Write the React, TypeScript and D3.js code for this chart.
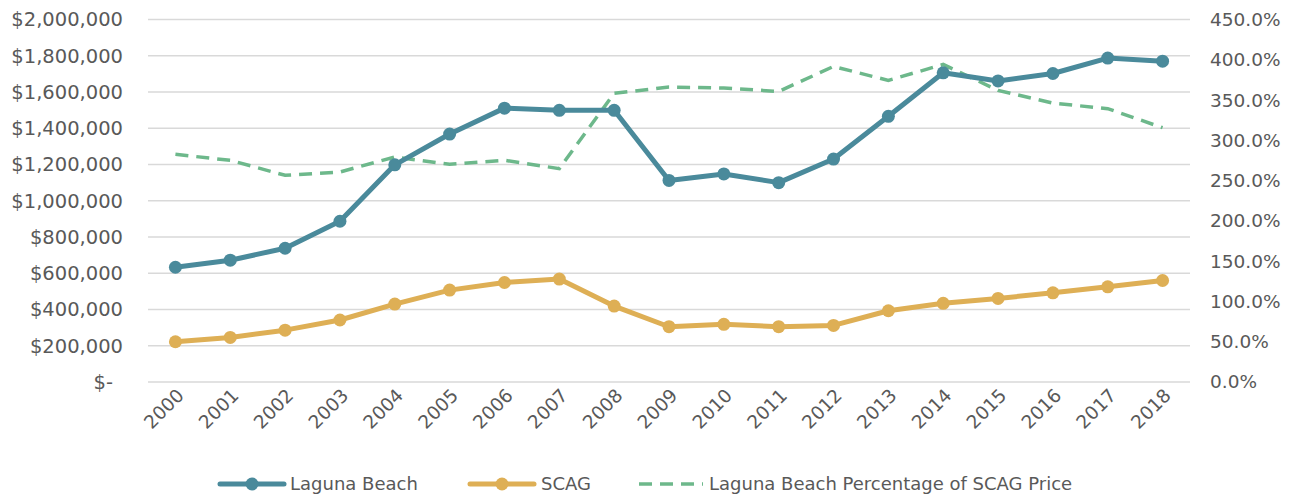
import React from "react";
import * as d3 from "d3";

const years = ["2000","2001","2002","2003","2004","2005","2006","2007","2008","2009","2010","2011","2012","2013","2014","2015","2016","2017","2018"];
const lagunaBeach = [633000, 672000, 738000, 887000, 1198000, 1368000, 1511000, 1499000, 1499000, 1112000, 1148000, 1100000, 1230000, 1466000, 1706000, 1661000, 1702000, 1787000, 1770000];
const scag = [222000, 246000, 286000, 342000, 430000, 507000, 549000, 568000, 419000, 305000, 318000, 305000, 312000, 393000, 434000, 461000, 492000, 525000, 560000];
const pctOfScag = [282.6, 275.2, 256.6, 260.7, 279.3, 270.2, 275.2, 264.9, 358.3, 366.2, 364.9, 360.7, 391.7, 374.4, 394.2, 362.0, 346.2, 339.3, 315.7];
const leftTicks = [0, 200000, 400000, 600000, 800000, 1000000, 1200000, 1400000, 1600000, 1800000, 2000000];
const rightTicks = [0, 50, 100, 150, 200, 250, 300, 350, 400, 450];
const legendLabels = ["Laguna Beach", "SCAG", "Laguna Beach Percentage of SCAG Price"];

const W = 1296, H = 500;
const M = { left: 148, right: 1190, top: 19.5, bottom: 382 };
const TEAL = "#4A8A9B";
const GOLD = "#DEAF55";
const GREEN = "#6DB88B";
const GRID = "#D9D9D9";
const TEXT = "#595959";
const FONT = "'DejaVu Sans', sans-serif";

export default function App() {
  const x = d3.scalePoint<string>().domain(years).range([M.left, M.right]).padding(0.5);
  const yL = d3.scaleLinear().domain([0, 2000000]).range([M.bottom, M.top]);
  const yR = d3.scaleLinear().domain([0, 450]).range([M.bottom, M.top]);
  const lineL = d3.line<number>().x((_, i) => x(years[i])!).y((d) => yL(d));
  const lineR = d3.line<number>().x((_, i) => x(years[i])!).y((d) => yR(d));
  const fmtL = (d: number) => (d === 0 ? "$-" : d3.format("$,")(d));
  const fmtR = (d: number) => d3.format(".1f")(d) + "%";

  const legendX = [220, 470, 639];
  const legendY = 484;

  return (
    <svg width={W} height={H} style={{ position: "absolute", left: 0, top: 0, background: "#fff" }} fontFamily={FONT}>
      <g>
        {leftTicks.map((t) => (
          <line key={t} x1={M.left} x2={M.right} y1={yL(t)} y2={yL(t)} stroke={GRID} strokeWidth={1.5} />
        ))}
      </g>
      <g fill={TEXT} fontSize={18.5}>
        {leftTicks.map((t) => (
          <text key={t} x={t === 0 ? 113 : 123} y={yL(t)} dy="0.35em" textAnchor="end" fontSize={19.5}>{fmtL(t)}</text>
        ))}
        {rightTicks.map((t) => (
          <text key={t} x={1210} y={yR(t)} dy="0.35em" textAnchor="start">{fmtR(t)}</text>
        ))}
        {years.map((yr) => (
          <text key={yr} transform={`translate(${x(yr)! + 5},${392}) rotate(-45)`} dy="0.35em" textAnchor="end">{yr}</text>
        ))}
      </g>
      <path d={lineR(pctOfScag)!} fill="none" stroke={GREEN} strokeWidth={3.5} strokeDasharray="13,8" />
      <path d={lineL(scag)!} fill="none" stroke={GOLD} strokeWidth={5} strokeLinejoin="round" />
      {scag.map((v, i) => (
        <circle key={i} cx={x(years[i])!} cy={yL(v)} r={6.5} fill={GOLD} />
      ))}
      <path d={lineL(lagunaBeach)!} fill="none" stroke={TEAL} strokeWidth={5} strokeLinejoin="round" />
      {lagunaBeach.map((v, i) => (
        <circle key={i} cx={x(years[i])!} cy={yL(v)} r={6.5} fill={TEAL} />
      ))}
      <g fontSize={18} fill={TEXT}>
        <line x1={legendX[0]} x2={legendX[0] + 64} y1={legendY} y2={legendY} stroke={TEAL} strokeWidth={5} strokeLinecap="round" />
        <circle cx={legendX[0] + 32} cy={legendY} r={6.5} fill={TEAL} />
        <text x={legendX[0] + 70} y={legendY} dy="0.35em">{legendLabels[0]}</text>
        <line x1={legendX[1]} x2={legendX[1] + 64} y1={legendY} y2={legendY} stroke={GOLD} strokeWidth={5} strokeLinecap="round" />
        <circle cx={legendX[1] + 32} cy={legendY} r={6.5} fill={GOLD} />
        <text x={legendX[1] + 71} y={legendY} dy="0.35em">{legendLabels[1]}</text>
        <line x1={legendX[2]} x2={legendX[2] + 64} y1={legendY} y2={legendY} stroke={GREEN} strokeWidth={3.5} strokeDasharray="13,8" />
        <text x={legendX[2] + 70} y={legendY} dy="0.35em">{legendLabels[2]}</text>
      </g>
    </svg>
  );
}
